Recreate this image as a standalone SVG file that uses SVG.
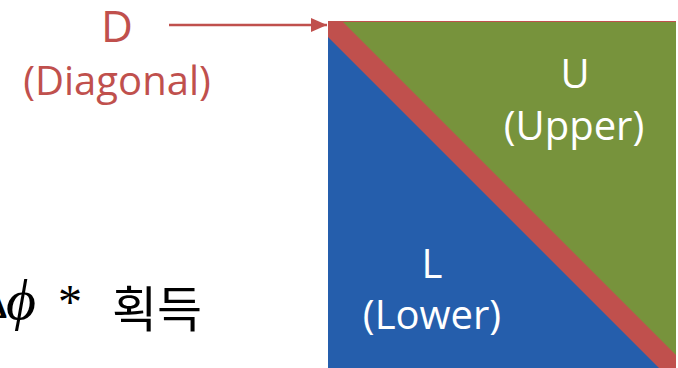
<svg xmlns="http://www.w3.org/2000/svg" width="678" height="368" viewBox="0 0 678 368">
<style>
.red{fill:#C0504D}
.lbl{font-family:"Open Sans","Noto Sans",sans-serif;text-anchor:middle}
.w{fill:#FFFFFF}
.math{font-family:"Liberation Serif","DejaVu Serif",serif;fill:#000}
.kr{font-family:"Noto Sans CJK KR","Noto Sans",sans-serif;fill:#000}
</style>
<defs>
<marker id="ah" viewBox="0 0 16 14" refX="16" refY="7" markerWidth="16" markerHeight="14" markerUnits="userSpaceOnUse" orient="auto">
<path d="M0,0 L16,7 L0,14 z" fill="#C0504D"/>
</marker>
</defs>
<g id="matrix">
<rect x="328" y="21" width="348" height="348" fill="#C0504D"/>
<polygon id="upper" points="343,22 676,22 676,355" fill="#77933C"/>
<polygon id="lower" points="328,37 328,369 660,369" fill="#255EAC"/>
</g>
<g id="connectors">
<line x1="169" y1="25" x2="327" y2="25" stroke="#C0504D" stroke-width="2.5" marker-end="url(#ah)"/>
</g>
<g id="D">
<text class="lbl red" x="117" y="42" font-size="44">D</text>
<text class="lbl red" x="117" y="95" font-size="40">(Diagonal)</text>
</g>
<g id="U">
<text class="lbl w" x="575" y="88" font-size="40">U</text>
<text class="lbl w" x="574" y="140" font-size="40">(Upper)</text>
</g>
<g id="L">
<text class="lbl w" x="432" y="278" font-size="40">L</text>
<text class="lbl w" x="432" y="329" font-size="40">(Lower)</text>
</g>
<g id="result">
<text class="math" x="8" y="318" font-size="48" text-anchor="end">Δ</text>
<text class="math" x="6" y="319" font-size="58" font-style="italic">ϕ</text>
<text class="math" x="58" y="318" font-size="48">*</text>
<text class="kr" x="112" y="327" font-size="49">획득</text>
</g>
</svg>
